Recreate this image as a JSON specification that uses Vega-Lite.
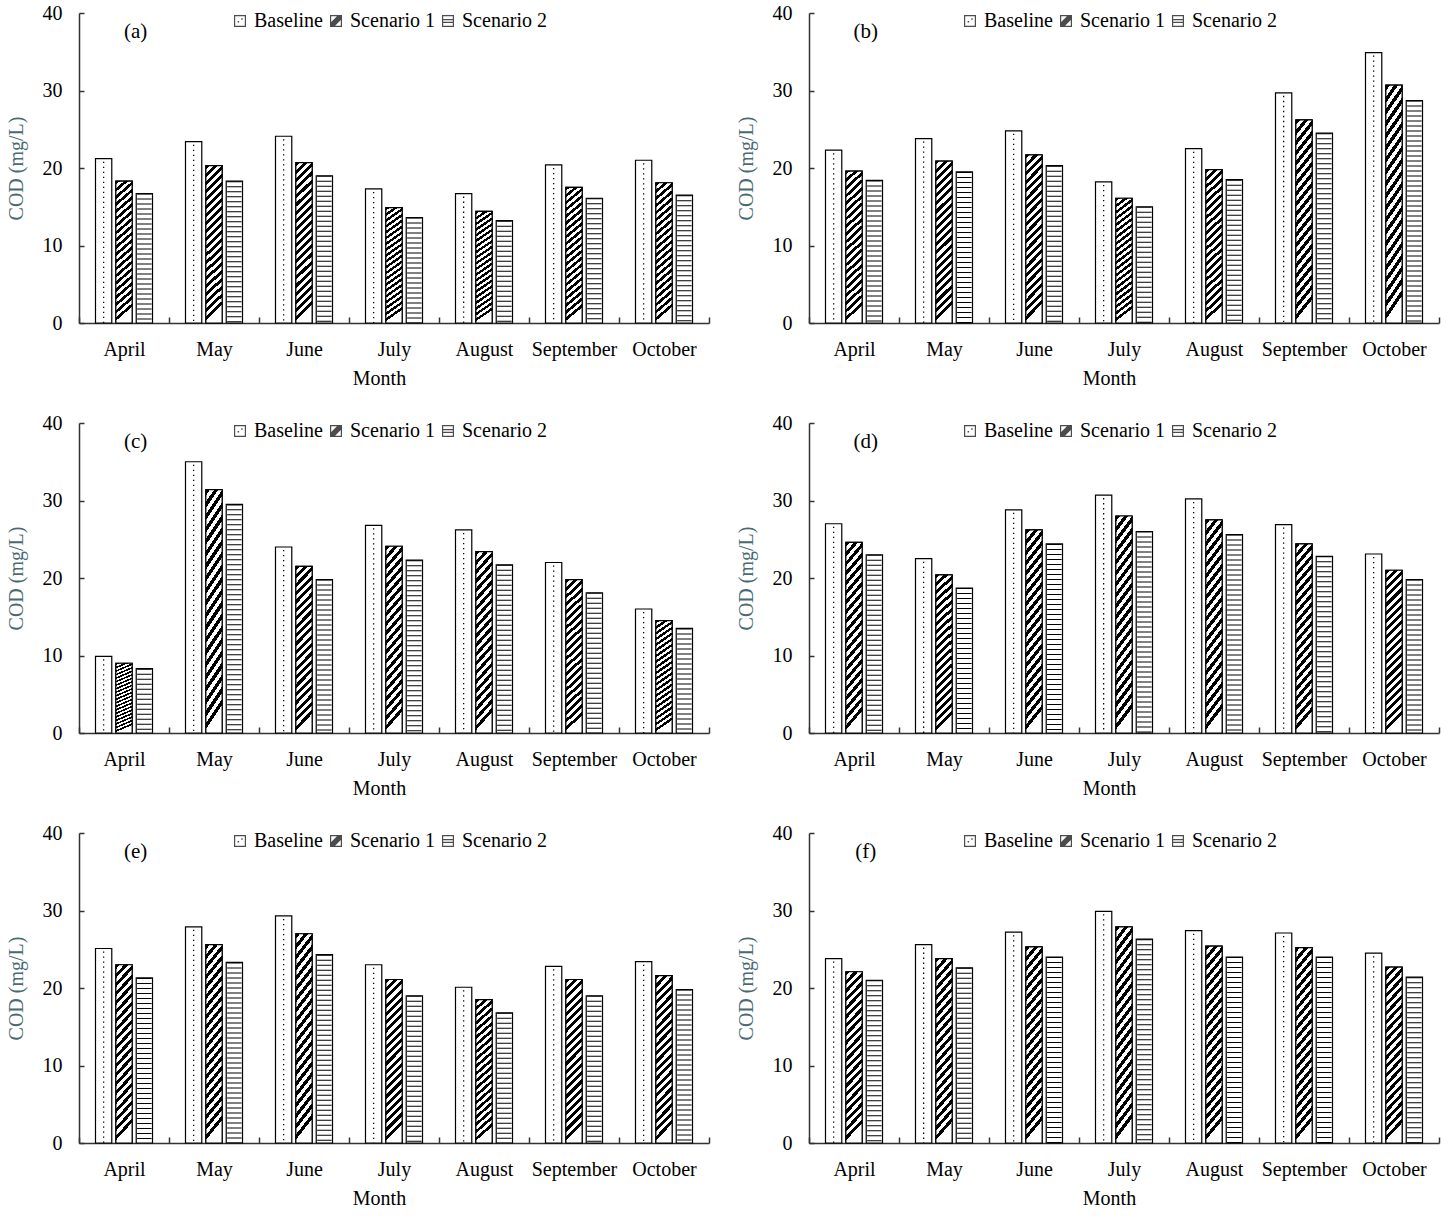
{
  "$schema": "https://vega.github.io/schema/vega-lite/v6.json",
  "padding": {"left": 6, "top": 3, "right": 5, "bottom": 5},
  "datasets": {
    "cod": [
      {"panel": "(a)", "month": "April", "scenario": "Baseline", "cod": 21.2},
      {"panel": "(a)", "month": "April", "scenario": "Scenario 1", "cod": 18.3},
      {"panel": "(a)", "month": "April", "scenario": "Scenario 2", "cod": 16.7},
      {"panel": "(a)", "month": "May", "scenario": "Baseline", "cod": 23.4},
      {"panel": "(a)", "month": "May", "scenario": "Scenario 1", "cod": 20.3},
      {"panel": "(a)", "month": "May", "scenario": "Scenario 2", "cod": 18.3},
      {"panel": "(a)", "month": "June", "scenario": "Baseline", "cod": 24.1},
      {"panel": "(a)", "month": "June", "scenario": "Scenario 1", "cod": 20.7},
      {"panel": "(a)", "month": "June", "scenario": "Scenario 2", "cod": 19.0},
      {"panel": "(a)", "month": "July", "scenario": "Baseline", "cod": 17.3},
      {"panel": "(a)", "month": "July", "scenario": "Scenario 1", "cod": 14.9},
      {"panel": "(a)", "month": "July", "scenario": "Scenario 2", "cod": 13.6},
      {"panel": "(a)", "month": "August", "scenario": "Baseline", "cod": 16.7},
      {"panel": "(a)", "month": "August", "scenario": "Scenario 1", "cod": 14.4},
      {"panel": "(a)", "month": "August", "scenario": "Scenario 2", "cod": 13.2},
      {"panel": "(a)", "month": "September", "scenario": "Baseline", "cod": 20.4},
      {"panel": "(a)", "month": "September", "scenario": "Scenario 1", "cod": 17.5},
      {"panel": "(a)", "month": "September", "scenario": "Scenario 2", "cod": 16.1},
      {"panel": "(a)", "month": "October", "scenario": "Baseline", "cod": 21.0},
      {"panel": "(a)", "month": "October", "scenario": "Scenario 1", "cod": 18.1},
      {"panel": "(a)", "month": "October", "scenario": "Scenario 2", "cod": 16.5},

      {"panel": "(b)", "month": "April", "scenario": "Baseline", "cod": 22.3},
      {"panel": "(b)", "month": "April", "scenario": "Scenario 1", "cod": 19.6},
      {"panel": "(b)", "month": "April", "scenario": "Scenario 2", "cod": 18.4},
      {"panel": "(b)", "month": "May", "scenario": "Baseline", "cod": 23.8},
      {"panel": "(b)", "month": "May", "scenario": "Scenario 1", "cod": 20.9},
      {"panel": "(b)", "month": "May", "scenario": "Scenario 2", "cod": 19.5},
      {"panel": "(b)", "month": "June", "scenario": "Baseline", "cod": 24.8},
      {"panel": "(b)", "month": "June", "scenario": "Scenario 1", "cod": 21.7},
      {"panel": "(b)", "month": "June", "scenario": "Scenario 2", "cod": 20.3},
      {"panel": "(b)", "month": "July", "scenario": "Baseline", "cod": 18.2},
      {"panel": "(b)", "month": "July", "scenario": "Scenario 1", "cod": 16.1},
      {"panel": "(b)", "month": "July", "scenario": "Scenario 2", "cod": 15.0},
      {"panel": "(b)", "month": "August", "scenario": "Baseline", "cod": 22.5},
      {"panel": "(b)", "month": "August", "scenario": "Scenario 1", "cod": 19.8},
      {"panel": "(b)", "month": "August", "scenario": "Scenario 2", "cod": 18.5},
      {"panel": "(b)", "month": "September", "scenario": "Baseline", "cod": 29.7},
      {"panel": "(b)", "month": "September", "scenario": "Scenario 1", "cod": 26.2},
      {"panel": "(b)", "month": "September", "scenario": "Scenario 2", "cod": 24.5},
      {"panel": "(b)", "month": "October", "scenario": "Baseline", "cod": 34.9},
      {"panel": "(b)", "month": "October", "scenario": "Scenario 1", "cod": 30.7},
      {"panel": "(b)", "month": "October", "scenario": "Scenario 2", "cod": 28.7},

      {"panel": "(c)", "month": "April", "scenario": "Baseline", "cod": 9.9},
      {"panel": "(c)", "month": "April", "scenario": "Scenario 1", "cod": 9.0},
      {"panel": "(c)", "month": "April", "scenario": "Scenario 2", "cod": 8.3},
      {"panel": "(c)", "month": "May", "scenario": "Baseline", "cod": 35.0},
      {"panel": "(c)", "month": "May", "scenario": "Scenario 1", "cod": 31.4},
      {"panel": "(c)", "month": "May", "scenario": "Scenario 2", "cod": 29.5},
      {"panel": "(c)", "month": "June", "scenario": "Baseline", "cod": 24.0},
      {"panel": "(c)", "month": "June", "scenario": "Scenario 1", "cod": 21.5},
      {"panel": "(c)", "month": "June", "scenario": "Scenario 2", "cod": 19.8},
      {"panel": "(c)", "month": "July", "scenario": "Baseline", "cod": 26.8},
      {"panel": "(c)", "month": "July", "scenario": "Scenario 1", "cod": 24.1},
      {"panel": "(c)", "month": "July", "scenario": "Scenario 2", "cod": 22.3},
      {"panel": "(c)", "month": "August", "scenario": "Baseline", "cod": 26.2},
      {"panel": "(c)", "month": "August", "scenario": "Scenario 1", "cod": 23.4},
      {"panel": "(c)", "month": "August", "scenario": "Scenario 2", "cod": 21.7},
      {"panel": "(c)", "month": "September", "scenario": "Baseline", "cod": 22.0},
      {"panel": "(c)", "month": "September", "scenario": "Scenario 1", "cod": 19.8},
      {"panel": "(c)", "month": "September", "scenario": "Scenario 2", "cod": 18.1},
      {"panel": "(c)", "month": "October", "scenario": "Baseline", "cod": 16.0},
      {"panel": "(c)", "month": "October", "scenario": "Scenario 1", "cod": 14.5},
      {"panel": "(c)", "month": "October", "scenario": "Scenario 2", "cod": 13.5},

      {"panel": "(d)", "month": "April", "scenario": "Baseline", "cod": 27.0},
      {"panel": "(d)", "month": "April", "scenario": "Scenario 1", "cod": 24.6},
      {"panel": "(d)", "month": "April", "scenario": "Scenario 2", "cod": 23.0},
      {"panel": "(d)", "month": "May", "scenario": "Baseline", "cod": 22.5},
      {"panel": "(d)", "month": "May", "scenario": "Scenario 1", "cod": 20.4},
      {"panel": "(d)", "month": "May", "scenario": "Scenario 2", "cod": 18.7},
      {"panel": "(d)", "month": "June", "scenario": "Baseline", "cod": 28.8},
      {"panel": "(d)", "month": "June", "scenario": "Scenario 1", "cod": 26.2},
      {"panel": "(d)", "month": "June", "scenario": "Scenario 2", "cod": 24.4},
      {"panel": "(d)", "month": "July", "scenario": "Baseline", "cod": 30.7},
      {"panel": "(d)", "month": "July", "scenario": "Scenario 1", "cod": 28.0},
      {"panel": "(d)", "month": "July", "scenario": "Scenario 2", "cod": 26.0},
      {"panel": "(d)", "month": "August", "scenario": "Baseline", "cod": 30.2},
      {"panel": "(d)", "month": "August", "scenario": "Scenario 1", "cod": 27.5},
      {"panel": "(d)", "month": "August", "scenario": "Scenario 2", "cod": 25.6},
      {"panel": "(d)", "month": "September", "scenario": "Baseline", "cod": 26.9},
      {"panel": "(d)", "month": "September", "scenario": "Scenario 1", "cod": 24.4},
      {"panel": "(d)", "month": "September", "scenario": "Scenario 2", "cod": 22.8},
      {"panel": "(d)", "month": "October", "scenario": "Baseline", "cod": 23.1},
      {"panel": "(d)", "month": "October", "scenario": "Scenario 1", "cod": 21.0},
      {"panel": "(d)", "month": "October", "scenario": "Scenario 2", "cod": 19.8},

      {"panel": "(e)", "month": "April", "scenario": "Baseline", "cod": 25.1},
      {"panel": "(e)", "month": "April", "scenario": "Scenario 1", "cod": 23.0},
      {"panel": "(e)", "month": "April", "scenario": "Scenario 2", "cod": 21.3},
      {"panel": "(e)", "month": "May", "scenario": "Baseline", "cod": 27.9},
      {"panel": "(e)", "month": "May", "scenario": "Scenario 1", "cod": 25.6},
      {"panel": "(e)", "month": "May", "scenario": "Scenario 2", "cod": 23.3},
      {"panel": "(e)", "month": "June", "scenario": "Baseline", "cod": 29.3},
      {"panel": "(e)", "month": "June", "scenario": "Scenario 1", "cod": 27.0},
      {"panel": "(e)", "month": "June", "scenario": "Scenario 2", "cod": 24.3},
      {"panel": "(e)", "month": "July", "scenario": "Baseline", "cod": 23.0},
      {"panel": "(e)", "month": "July", "scenario": "Scenario 1", "cod": 21.1},
      {"panel": "(e)", "month": "July", "scenario": "Scenario 2", "cod": 19.0},
      {"panel": "(e)", "month": "August", "scenario": "Baseline", "cod": 20.1},
      {"panel": "(e)", "month": "August", "scenario": "Scenario 1", "cod": 18.5},
      {"panel": "(e)", "month": "August", "scenario": "Scenario 2", "cod": 16.8},
      {"panel": "(e)", "month": "September", "scenario": "Baseline", "cod": 22.8},
      {"panel": "(e)", "month": "September", "scenario": "Scenario 1", "cod": 21.1},
      {"panel": "(e)", "month": "September", "scenario": "Scenario 2", "cod": 19.0},
      {"panel": "(e)", "month": "October", "scenario": "Baseline", "cod": 23.4},
      {"panel": "(e)", "month": "October", "scenario": "Scenario 1", "cod": 21.6},
      {"panel": "(e)", "month": "October", "scenario": "Scenario 2", "cod": 19.8},

      {"panel": "(f)", "month": "April", "scenario": "Baseline", "cod": 23.8},
      {"panel": "(f)", "month": "April", "scenario": "Scenario 1", "cod": 22.1},
      {"panel": "(f)", "month": "April", "scenario": "Scenario 2", "cod": 21.0},
      {"panel": "(f)", "month": "May", "scenario": "Baseline", "cod": 25.6},
      {"panel": "(f)", "month": "May", "scenario": "Scenario 1", "cod": 23.8},
      {"panel": "(f)", "month": "May", "scenario": "Scenario 2", "cod": 22.6},
      {"panel": "(f)", "month": "June", "scenario": "Baseline", "cod": 27.2},
      {"panel": "(f)", "month": "June", "scenario": "Scenario 1", "cod": 25.3},
      {"panel": "(f)", "month": "June", "scenario": "Scenario 2", "cod": 24.0},
      {"panel": "(f)", "month": "July", "scenario": "Baseline", "cod": 29.9},
      {"panel": "(f)", "month": "July", "scenario": "Scenario 1", "cod": 27.9},
      {"panel": "(f)", "month": "July", "scenario": "Scenario 2", "cod": 26.3},
      {"panel": "(f)", "month": "August", "scenario": "Baseline", "cod": 27.4},
      {"panel": "(f)", "month": "August", "scenario": "Scenario 1", "cod": 25.4},
      {"panel": "(f)", "month": "August", "scenario": "Scenario 2", "cod": 24.0},
      {"panel": "(f)", "month": "September", "scenario": "Baseline", "cod": 27.1},
      {"panel": "(f)", "month": "September", "scenario": "Scenario 1", "cod": 25.2},
      {"panel": "(f)", "month": "September", "scenario": "Scenario 2", "cod": 24.0},
      {"panel": "(f)", "month": "October", "scenario": "Baseline", "cod": 24.5},
      {"panel": "(f)", "month": "October", "scenario": "Scenario 1", "cod": 22.7},
      {"panel": "(f)", "month": "October", "scenario": "Scenario 2", "cod": 21.4}
    ]
  },
  "data": {"name": "cod"},
  "columns": 2,
  "spacing": 100,
  "bounds": "flush",
  "resolve": {"scale": {"shape": "independent"}, "legend": {"shape": "independent"}},
  "concat": [
    {
      "width": 630, "height": 310,
      "transform": [{"filter": "datum.panel === '(a)'"}],
      "encoding": {
        "x": {"field": "month", "type": "nominal", "sort": ["April", "May", "June", "July", "August", "September", "October"], "scale": {"paddingInner": 0, "paddingOuter": 0}, "axis": {"title": "Month"}},
        "xOffset": {"field": "scenario", "type": "nominal", "scale": {"paddingInner": 0.2, "paddingOuter": 0.81}},
        "y": {"field": "cod", "type": "quantitative", "scale": {"domain": [0, 40], "nice": false}, "axis": {"title": "COD (mg/L)", "values": [0, 10, 20, 30, 40]}}
      },
      "layer": [
        {"mark": {"type": "point", "filled": true, "color": "black", "size": 25}, "encoding": {"y": {"datum": 5}, "shape": {"field": "scenario", "type": "nominal", "scale": {"domain": ["Baseline", "Scenario 1", "Scenario 2"], "range": ["M-1,-1H1V1H-1Z M-0.8,-0.8V0.8H0.8V-0.8Z M-0.4,0H-0.15V0.25H-0.4Z M0.2,-0.45H0.45V-0.2H0.2Z", "M-1,-1H1V1H-1Z M-0.8,-0.8V0.8H0.8V-0.8Z M-0.8,0.15L0.15,-0.8H0.8V-0.15L-0.15,0.8H-0.8Z", "M-1,-1H1V1H-1Z M-0.8,-0.8V0.8H0.8V-0.8Z M-0.8,-0.32H0.8V-0.12H-0.8Z M0.8,0.12V0.32H-0.8V0.12Z"]}, "legend": {"title": null, "orient": "none", "legendX": 151, "legendY": -2, "direction": "horizontal"}}}},
        {"mark": {"type": "bar", "fill": "white", "stroke": "black", "strokeWidth": 1.2}},
        {"transform": [{"filter": "datum.scenario === 'Scenario 1'"}], "mark": {"type": "bar"}},
        {"transform": [{"filter": "datum.scenario === 'Scenario 2'"}], "mark": {"type": "rule", "style": "lines"}, "encoding": {"y2": {"datum": 0}}},
        {"transform": [{"filter": "datum.scenario === 'Baseline'"}], "mark": {"type": "rule", "style": "dots", "xOffset": -3.5, "strokeDashOffset": 7}, "encoding": {"y2": {"datum": 0}}},
        {"transform": [{"filter": "datum.scenario === 'Baseline'"}], "mark": {"type": "rule", "style": "dots", "xOffset": 3.5, "strokeDashOffset": 2}, "encoding": {"y2": {"datum": 0}}},
        {"transform": [{"filter": "datum.month === 'April' && datum.scenario === 'Baseline'"}], "mark": {"type": "text", "style": "plabel", "dx": 32}, "encoding": {"y": {"datum": 37.5}, "text": {"field": "panel"}}}
      ]
    },
    {
      "width": 630, "height": 310,
      "transform": [{"filter": "datum.panel === '(b)'"}],
      "encoding": {
        "x": {"field": "month", "type": "nominal", "sort": ["April", "May", "June", "July", "August", "September", "October"], "scale": {"paddingInner": 0, "paddingOuter": 0}, "axis": {"title": "Month"}},
        "xOffset": {"field": "scenario", "type": "nominal", "scale": {"paddingInner": 0.2, "paddingOuter": 0.81}},
        "y": {"field": "cod", "type": "quantitative", "scale": {"domain": [0, 40], "nice": false}, "axis": {"title": "COD (mg/L)", "values": [0, 10, 20, 30, 40]}}
      },
      "layer": [
        {"mark": {"type": "point", "filled": true, "color": "black", "size": 25}, "encoding": {"y": {"datum": 5}, "shape": {"field": "scenario", "type": "nominal", "scale": {"domain": ["Baseline", "Scenario 1", "Scenario 2"], "range": ["M-1,-1H1V1H-1Z M-0.8,-0.8V0.8H0.8V-0.8Z M-0.4,0H-0.15V0.25H-0.4Z M0.2,-0.45H0.45V-0.2H0.2Z", "M-1,-1H1V1H-1Z M-0.8,-0.8V0.8H0.8V-0.8Z M-0.8,0.15L0.15,-0.8H0.8V-0.15L-0.15,0.8H-0.8Z", "M-1,-1H1V1H-1Z M-0.8,-0.8V0.8H0.8V-0.8Z M-0.8,-0.32H0.8V-0.12H-0.8Z M0.8,0.12V0.32H-0.8V0.12Z"]}, "legend": {"title": null, "orient": "none", "legendX": 151, "legendY": -2, "direction": "horizontal"}}}},
        {"mark": {"type": "bar", "fill": "white", "stroke": "black", "strokeWidth": 1.2}},
        {"transform": [{"filter": "datum.scenario === 'Scenario 1'"}], "mark": {"type": "bar"}},
        {"transform": [{"filter": "datum.scenario === 'Scenario 2'"}], "mark": {"type": "rule", "style": "lines"}, "encoding": {"y2": {"datum": 0}}},
        {"transform": [{"filter": "datum.scenario === 'Baseline'"}], "mark": {"type": "rule", "style": "dots", "xOffset": -3.5, "strokeDashOffset": 7}, "encoding": {"y2": {"datum": 0}}},
        {"transform": [{"filter": "datum.scenario === 'Baseline'"}], "mark": {"type": "rule", "style": "dots", "xOffset": 3.5, "strokeDashOffset": 2}, "encoding": {"y2": {"datum": 0}}},
        {"transform": [{"filter": "datum.month === 'April' && datum.scenario === 'Baseline'"}], "mark": {"type": "text", "style": "plabel", "dx": 32}, "encoding": {"y": {"datum": 37.5}, "text": {"field": "panel"}}}
      ]
    },
    {
      "width": 630, "height": 310,
      "transform": [{"filter": "datum.panel === '(c)'"}],
      "encoding": {
        "x": {"field": "month", "type": "nominal", "sort": ["April", "May", "June", "July", "August", "September", "October"], "scale": {"paddingInner": 0, "paddingOuter": 0}, "axis": {"title": "Month"}},
        "xOffset": {"field": "scenario", "type": "nominal", "scale": {"paddingInner": 0.2, "paddingOuter": 0.81}},
        "y": {"field": "cod", "type": "quantitative", "scale": {"domain": [0, 40], "nice": false}, "axis": {"title": "COD (mg/L)", "values": [0, 10, 20, 30, 40]}}
      },
      "layer": [
        {"mark": {"type": "point", "filled": true, "color": "black", "size": 25}, "encoding": {"y": {"datum": 5}, "shape": {"field": "scenario", "type": "nominal", "scale": {"domain": ["Baseline", "Scenario 1", "Scenario 2"], "range": ["M-1,-1H1V1H-1Z M-0.8,-0.8V0.8H0.8V-0.8Z M-0.4,0H-0.15V0.25H-0.4Z M0.2,-0.45H0.45V-0.2H0.2Z", "M-1,-1H1V1H-1Z M-0.8,-0.8V0.8H0.8V-0.8Z M-0.8,0.15L0.15,-0.8H0.8V-0.15L-0.15,0.8H-0.8Z", "M-1,-1H1V1H-1Z M-0.8,-0.8V0.8H0.8V-0.8Z M-0.8,-0.32H0.8V-0.12H-0.8Z M0.8,0.12V0.32H-0.8V0.12Z"]}, "legend": {"title": null, "orient": "none", "legendX": 151, "legendY": -2, "direction": "horizontal"}}}},
        {"mark": {"type": "bar", "fill": "white", "stroke": "black", "strokeWidth": 1.2}},
        {"transform": [{"filter": "datum.scenario === 'Scenario 1'"}], "mark": {"type": "bar"}},
        {"transform": [{"filter": "datum.scenario === 'Scenario 2'"}], "mark": {"type": "rule", "style": "lines"}, "encoding": {"y2": {"datum": 0}}},
        {"transform": [{"filter": "datum.scenario === 'Baseline'"}], "mark": {"type": "rule", "style": "dots", "xOffset": -3.5, "strokeDashOffset": 7}, "encoding": {"y2": {"datum": 0}}},
        {"transform": [{"filter": "datum.scenario === 'Baseline'"}], "mark": {"type": "rule", "style": "dots", "xOffset": 3.5, "strokeDashOffset": 2}, "encoding": {"y2": {"datum": 0}}},
        {"transform": [{"filter": "datum.month === 'April' && datum.scenario === 'Baseline'"}], "mark": {"type": "text", "style": "plabel", "dx": 32}, "encoding": {"y": {"datum": 37.5}, "text": {"field": "panel"}}}
      ]
    },
    {
      "width": 630, "height": 310,
      "transform": [{"filter": "datum.panel === '(d)'"}],
      "encoding": {
        "x": {"field": "month", "type": "nominal", "sort": ["April", "May", "June", "July", "August", "September", "October"], "scale": {"paddingInner": 0, "paddingOuter": 0}, "axis": {"title": "Month"}},
        "xOffset": {"field": "scenario", "type": "nominal", "scale": {"paddingInner": 0.2, "paddingOuter": 0.81}},
        "y": {"field": "cod", "type": "quantitative", "scale": {"domain": [0, 40], "nice": false}, "axis": {"title": "COD (mg/L)", "values": [0, 10, 20, 30, 40]}}
      },
      "layer": [
        {"mark": {"type": "point", "filled": true, "color": "black", "size": 25}, "encoding": {"y": {"datum": 5}, "shape": {"field": "scenario", "type": "nominal", "scale": {"domain": ["Baseline", "Scenario 1", "Scenario 2"], "range": ["M-1,-1H1V1H-1Z M-0.8,-0.8V0.8H0.8V-0.8Z M-0.4,0H-0.15V0.25H-0.4Z M0.2,-0.45H0.45V-0.2H0.2Z", "M-1,-1H1V1H-1Z M-0.8,-0.8V0.8H0.8V-0.8Z M-0.8,0.15L0.15,-0.8H0.8V-0.15L-0.15,0.8H-0.8Z", "M-1,-1H1V1H-1Z M-0.8,-0.8V0.8H0.8V-0.8Z M-0.8,-0.32H0.8V-0.12H-0.8Z M0.8,0.12V0.32H-0.8V0.12Z"]}, "legend": {"title": null, "orient": "none", "legendX": 151, "legendY": -2, "direction": "horizontal"}}}},
        {"mark": {"type": "bar", "fill": "white", "stroke": "black", "strokeWidth": 1.2}},
        {"transform": [{"filter": "datum.scenario === 'Scenario 1'"}], "mark": {"type": "bar"}},
        {"transform": [{"filter": "datum.scenario === 'Scenario 2'"}], "mark": {"type": "rule", "style": "lines"}, "encoding": {"y2": {"datum": 0}}},
        {"transform": [{"filter": "datum.scenario === 'Baseline'"}], "mark": {"type": "rule", "style": "dots", "xOffset": -3.5, "strokeDashOffset": 7}, "encoding": {"y2": {"datum": 0}}},
        {"transform": [{"filter": "datum.scenario === 'Baseline'"}], "mark": {"type": "rule", "style": "dots", "xOffset": 3.5, "strokeDashOffset": 2}, "encoding": {"y2": {"datum": 0}}},
        {"transform": [{"filter": "datum.month === 'April' && datum.scenario === 'Baseline'"}], "mark": {"type": "text", "style": "plabel", "dx": 32}, "encoding": {"y": {"datum": 37.5}, "text": {"field": "panel"}}}
      ]
    },
    {
      "width": 630, "height": 310,
      "transform": [{"filter": "datum.panel === '(e)'"}],
      "encoding": {
        "x": {"field": "month", "type": "nominal", "sort": ["April", "May", "June", "July", "August", "September", "October"], "scale": {"paddingInner": 0, "paddingOuter": 0}, "axis": {"title": "Month"}},
        "xOffset": {"field": "scenario", "type": "nominal", "scale": {"paddingInner": 0.2, "paddingOuter": 0.81}},
        "y": {"field": "cod", "type": "quantitative", "scale": {"domain": [0, 40], "nice": false}, "axis": {"title": "COD (mg/L)", "values": [0, 10, 20, 30, 40]}}
      },
      "layer": [
        {"mark": {"type": "point", "filled": true, "color": "black", "size": 25}, "encoding": {"y": {"datum": 5}, "shape": {"field": "scenario", "type": "nominal", "scale": {"domain": ["Baseline", "Scenario 1", "Scenario 2"], "range": ["M-1,-1H1V1H-1Z M-0.8,-0.8V0.8H0.8V-0.8Z M-0.4,0H-0.15V0.25H-0.4Z M0.2,-0.45H0.45V-0.2H0.2Z", "M-1,-1H1V1H-1Z M-0.8,-0.8V0.8H0.8V-0.8Z M-0.8,0.15L0.15,-0.8H0.8V-0.15L-0.15,0.8H-0.8Z", "M-1,-1H1V1H-1Z M-0.8,-0.8V0.8H0.8V-0.8Z M-0.8,-0.32H0.8V-0.12H-0.8Z M0.8,0.12V0.32H-0.8V0.12Z"]}, "legend": {"title": null, "orient": "none", "legendX": 151, "legendY": -2, "direction": "horizontal"}}}},
        {"mark": {"type": "bar", "fill": "white", "stroke": "black", "strokeWidth": 1.2}},
        {"transform": [{"filter": "datum.scenario === 'Scenario 1'"}], "mark": {"type": "bar"}},
        {"transform": [{"filter": "datum.scenario === 'Scenario 2'"}], "mark": {"type": "rule", "style": "lines"}, "encoding": {"y2": {"datum": 0}}},
        {"transform": [{"filter": "datum.scenario === 'Baseline'"}], "mark": {"type": "rule", "style": "dots", "xOffset": -3.5, "strokeDashOffset": 7}, "encoding": {"y2": {"datum": 0}}},
        {"transform": [{"filter": "datum.scenario === 'Baseline'"}], "mark": {"type": "rule", "style": "dots", "xOffset": 3.5, "strokeDashOffset": 2}, "encoding": {"y2": {"datum": 0}}},
        {"transform": [{"filter": "datum.month === 'April' && datum.scenario === 'Baseline'"}], "mark": {"type": "text", "style": "plabel", "dx": 32}, "encoding": {"y": {"datum": 37.5}, "text": {"field": "panel"}}}
      ]
    },
    {
      "width": 630, "height": 310,
      "transform": [{"filter": "datum.panel === '(f)'"}],
      "encoding": {
        "x": {"field": "month", "type": "nominal", "sort": ["April", "May", "June", "July", "August", "September", "October"], "scale": {"paddingInner": 0, "paddingOuter": 0}, "axis": {"title": "Month"}},
        "xOffset": {"field": "scenario", "type": "nominal", "scale": {"paddingInner": 0.2, "paddingOuter": 0.81}},
        "y": {"field": "cod", "type": "quantitative", "scale": {"domain": [0, 40], "nice": false}, "axis": {"title": "COD (mg/L)", "values": [0, 10, 20, 30, 40]}}
      },
      "layer": [
        {"mark": {"type": "point", "filled": true, "color": "black", "size": 25}, "encoding": {"y": {"datum": 5}, "shape": {"field": "scenario", "type": "nominal", "scale": {"domain": ["Baseline", "Scenario 1", "Scenario 2"], "range": ["M-1,-1H1V1H-1Z M-0.8,-0.8V0.8H0.8V-0.8Z M-0.4,0H-0.15V0.25H-0.4Z M0.2,-0.45H0.45V-0.2H0.2Z", "M-1,-1H1V1H-1Z M-0.8,-0.8V0.8H0.8V-0.8Z M-0.8,0.15L0.15,-0.8H0.8V-0.15L-0.15,0.8H-0.8Z", "M-1,-1H1V1H-1Z M-0.8,-0.8V0.8H0.8V-0.8Z M-0.8,-0.32H0.8V-0.12H-0.8Z M0.8,0.12V0.32H-0.8V0.12Z"]}, "legend": {"title": null, "orient": "none", "legendX": 151, "legendY": -2, "direction": "horizontal"}}}},
        {"mark": {"type": "bar", "fill": "white", "stroke": "black", "strokeWidth": 1.2}},
        {"transform": [{"filter": "datum.scenario === 'Scenario 1'"}], "mark": {"type": "bar"}},
        {"transform": [{"filter": "datum.scenario === 'Scenario 2'"}], "mark": {"type": "rule", "style": "lines"}, "encoding": {"y2": {"datum": 0}}},
        {"transform": [{"filter": "datum.scenario === 'Baseline'"}], "mark": {"type": "rule", "style": "dots", "xOffset": -3.5, "strokeDashOffset": 7}, "encoding": {"y2": {"datum": 0}}},
        {"transform": [{"filter": "datum.scenario === 'Baseline'"}], "mark": {"type": "rule", "style": "dots", "xOffset": 3.5, "strokeDashOffset": 2}, "encoding": {"y2": {"datum": 0}}},
        {"transform": [{"filter": "datum.month === 'April' && datum.scenario === 'Baseline'"}], "mark": {"type": "text", "style": "plabel", "dx": 32}, "encoding": {"y": {"datum": 37.5}, "text": {"field": "panel"}}}
      ]
    }
  ],
  "config": {
    "font": "Liberation Serif",
    "view": {"stroke": null},
    "axis": {
      "grid": false,
      "domainColor": "#333",
      "domainWidth": 1.5,
      "tickColor": "#333",
      "tickWidth": 1.5,
      "labelFont": "Liberation Serif",
      "labelFontSize": 20,
      "labelColor": "#000",
      "titleFont": "Liberation Serif",
      "titleFontSize": 20,
      "titleFontWeight": "normal",
      "titleColor": "#000"
    },
    "axisX": {"tickBand": "extent", "tickSize": -6, "labelPadding": 22, "labelAngle": 0, "titlePadding": 9, "titleX": 300},
    "axisY": {"tickSize": -5, "labelPadding": 22, "titleColor": "#4a6a72", "titlePadding": 16},
    "legend": {
      "labelFont": "Liberation Serif",
      "labelFontSize": 20,
      "labelColor": "#000",
      "symbolSize": 144,
      "symbolStrokeWidth": 0,
      "symbolFillColor": "#000",
      "columnPadding": 3,
      "labelOffset": 4
    },
    "bar": {
      "stroke": "black",
      "strokeWidth": 1.2,
      "fill": {
        "gradient": "linear", "x1": 0, "y1": 0, "x2": 0.1, "y2": 1,
        "stops": [
          {"offset": 0, "color": "#000"}, {"offset": 0.025, "color": "#000"}, {"offset": 0.025, "color": "#fff"}, {"offset": 0.05, "color": "#fff"},
          {"offset": 0.05, "color": "#000"}, {"offset": 0.075, "color": "#000"}, {"offset": 0.075, "color": "#fff"}, {"offset": 0.1, "color": "#fff"},
          {"offset": 0.1, "color": "#000"}, {"offset": 0.125, "color": "#000"}, {"offset": 0.125, "color": "#fff"}, {"offset": 0.15, "color": "#fff"},
          {"offset": 0.15, "color": "#000"}, {"offset": 0.175, "color": "#000"}, {"offset": 0.175, "color": "#fff"}, {"offset": 0.2, "color": "#fff"},
          {"offset": 0.2, "color": "#000"}, {"offset": 0.225, "color": "#000"}, {"offset": 0.225, "color": "#fff"}, {"offset": 0.25, "color": "#fff"},
          {"offset": 0.25, "color": "#000"}, {"offset": 0.275, "color": "#000"}, {"offset": 0.275, "color": "#fff"}, {"offset": 0.3, "color": "#fff"},
          {"offset": 0.3, "color": "#000"}, {"offset": 0.325, "color": "#000"}, {"offset": 0.325, "color": "#fff"}, {"offset": 0.35, "color": "#fff"},
          {"offset": 0.35, "color": "#000"}, {"offset": 0.375, "color": "#000"}, {"offset": 0.375, "color": "#fff"}, {"offset": 0.4, "color": "#fff"},
          {"offset": 0.4, "color": "#000"}, {"offset": 0.425, "color": "#000"}, {"offset": 0.425, "color": "#fff"}, {"offset": 0.45, "color": "#fff"},
          {"offset": 0.45, "color": "#000"}, {"offset": 0.475, "color": "#000"}, {"offset": 0.475, "color": "#fff"}, {"offset": 0.5, "color": "#fff"},
          {"offset": 0.5, "color": "#000"}, {"offset": 0.525, "color": "#000"}, {"offset": 0.525, "color": "#fff"}, {"offset": 0.55, "color": "#fff"},
          {"offset": 0.55, "color": "#000"}, {"offset": 0.575, "color": "#000"}, {"offset": 0.575, "color": "#fff"}, {"offset": 0.6, "color": "#fff"},
          {"offset": 0.6, "color": "#000"}, {"offset": 0.625, "color": "#000"}, {"offset": 0.625, "color": "#fff"}, {"offset": 0.65, "color": "#fff"},
          {"offset": 0.65, "color": "#000"}, {"offset": 0.675, "color": "#000"}, {"offset": 0.675, "color": "#fff"}, {"offset": 0.7, "color": "#fff"},
          {"offset": 0.7, "color": "#000"}, {"offset": 0.725, "color": "#000"}, {"offset": 0.725, "color": "#fff"}, {"offset": 0.75, "color": "#fff"},
          {"offset": 0.75, "color": "#000"}, {"offset": 0.775, "color": "#000"}, {"offset": 0.775, "color": "#fff"}, {"offset": 0.8, "color": "#fff"},
          {"offset": 0.8, "color": "#000"}, {"offset": 0.825, "color": "#000"}, {"offset": 0.825, "color": "#fff"}, {"offset": 0.85, "color": "#fff"},
          {"offset": 0.85, "color": "#000"}, {"offset": 0.875, "color": "#000"}, {"offset": 0.875, "color": "#fff"}, {"offset": 0.9, "color": "#fff"},
          {"offset": 0.9, "color": "#000"}, {"offset": 0.925, "color": "#000"}, {"offset": 0.925, "color": "#fff"}, {"offset": 0.95, "color": "#fff"},
          {"offset": 0.95, "color": "#000"}, {"offset": 0.975, "color": "#000"}, {"offset": 0.975, "color": "#fff"}, {"offset": 1, "color": "#fff"}
        ]
      }
    },
    "style": {
      "lines": {"stroke": "#000", "strokeWidth": 14.5, "strokeDash": [1, 4], "strokeCap": "butt"},
      "dots": {"stroke": "#222", "strokeWidth": 1.3, "strokeDash": [1.3, 8.7], "strokeCap": "butt"},
      "plabel": {"font": "Liberation Serif", "fontSize": 21, "color": "#000", "baseline": "middle", "align": "center"}
    }
  }
}
